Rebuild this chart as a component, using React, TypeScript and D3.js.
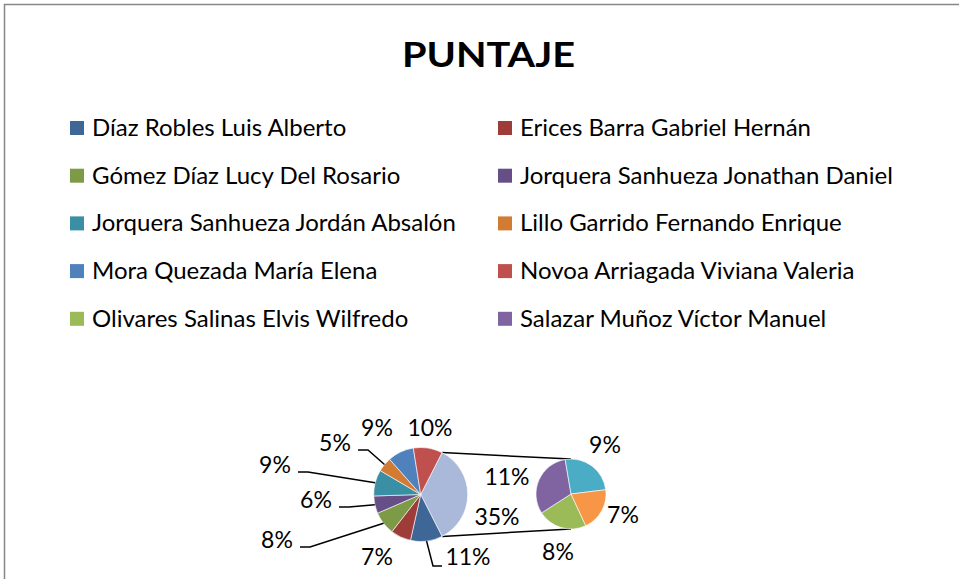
import React from "react";
import * as d3 from "d3";

const names = [
  "Díaz Robles Luis Alberto",
  "Erices Barra Gabriel Hernán",
  "Gómez Díaz Lucy Del Rosario",
  "Jorquera Sanhueza Jonathan Daniel",
  "Jorquera Sanhueza Jordán Absalón",
  "Lillo Garrido Fernando Enrique",
  "Mora Quezada María Elena",
  "Novoa Arriagada Viviana Valeria",
  "Olivares Salinas Elvis Wilfredo",
  "Salazar Muñoz Víctor Manuel",
  "Punto 11",
  "Punto 12",
];
const values = [11, 7, 8, 6, 9, 5, 9, 10, 8, 11, 9, 7];
const colors = [
  "#3E6797", "#9E3C3A", "#7D9A47", "#664F86", "#3B8FA4", "#D27B33",
  "#4F81BD", "#C0504D", "#9BBB59", "#8064A2", "#4BACC6", "#F79646",
];
const otherColor = "#AAB9D9";
const secondCount = 4;
const legendCount = 10;

// label layout (centers) for main pie slices 0..7: x, y, leader side (0 none, 1 line to the right, -1 line to the left)
const mainLabelPos: [number, number, number][] = [
  [468, 557, -1],
  [377, 557, 0],
  [277, 540, 1],
  [316, 500, 1],
  [275, 465, 1],
  [335, 443, 1],
  [377, 428, 0],
  [430, 428, 0],
];
const otherLabelPos: [number, number] = [497, 517];
const secondLabelPos: [number, number][] = [
  [558, 552],
  [507, 477],
  [605, 445],
  [623, 515],
];

export default function App() {
  const W = 959, H = 579;
  const c1: [number, number] = [420.7, 494.5];
  const r1 = 47;
  const c2: [number, number] = [571, 494];
  const r2 = 35;
  const total = d3.sum(values);
  const mainVals = values.slice(0, values.length - secondCount);
  const secVals = values.slice(values.length - secondCount);
  const otherVal = d3.sum(secVals);
  const otherAngle = (otherVal / total) * 2 * Math.PI;
  const start1 = Math.PI / 2 - otherAngle / 2;
  const mainData = [otherVal, ...mainVals];
  const pie1 = d3.pie<number>().sort(null).value((d) => d).startAngle(start1).endAngle(start1 + 2 * Math.PI);
  const arcs1 = pie1(mainData);
  const start2 = (155 / 180) * Math.PI;
  const pie2 = d3.pie<number>().sort(null).value((d) => d).startAngle(start2).endAngle(start2 + 2 * Math.PI);
  const arcs2 = pie2(secVals);
  const arc1 = d3.arc<d3.PieArcDatum<number>>().innerRadius(0).outerRadius(r1);
  const arc2 = d3.arc<d3.PieArcDatum<number>>().innerRadius(0).outerRadius(r2);
  const pct = d3.format(".0%");
  const font = "Lato, 'Open Sans', sans-serif";

  const pt = (c: [number, number], r: number, a: number): [number, number] => [
    c[0] + r * Math.sin(a),
    c[1] - r * Math.cos(a),
  ];
  const otherArc = arcs1[0];
  const topPt = pt(c1, r1, otherArc.startAngle);
  const botPt = pt(c1, r1, otherArc.endAngle);

  const legendRows = Math.ceil(legendCount / 2);
  const legendY = d3.scaleLinear().domain([0, legendRows - 1]).range([136, 326.8]);
  const legendX = [70, 498];

  return (
    <svg width={W} height={H} style={{ position: "absolute", left: 0, top: 0, background: "#fff" }}>
      <rect x={0} y={0} width={W} height={H} fill="#fff" />
      <rect x={4.5} y={4.5} width={W + 20} height={H + 20} fill="none" stroke="#878787" strokeWidth={1.5} />
      <text x={488.5} y={67} textAnchor="middle" fontFamily={font} fontWeight="bold" fontSize={34} textLength={173} lengthAdjust="spacingAndGlyphs">PUNTAJE</text>

      {names.slice(0, legendCount).map((n, i) => {
        const col = i % 2;
        const row = Math.floor(i / 2);
        const y = legendY(row);
        return (
          <g key={n}>
            <rect x={legendX[col]} y={y - 15} width={14} height={14} fill={colors[i]} />
            <text x={legendX[col] + 22} y={y} fontFamily={font} fontSize={24} fill="#000">{n}</text>
          </g>
        );
      })}

      {/* connector lines */}
      <line x1={topPt[0]} y1={topPt[1]} x2={c2[0]} y2={c2[1] - r2} stroke="#000" strokeWidth={1.5} />
      <line x1={botPt[0]} y1={botPt[1]} x2={c2[0]} y2={c2[1] + r2} stroke="#000" strokeWidth={1.5} />

      <g transform={`translate(${c1[0]},${c1[1]})`}>
        {arcs1.map((a, i) => (
          <path key={i} d={arc1(a) || ""} fill={i === 0 ? otherColor : colors[i - 1]} stroke="#fff" strokeWidth={0.6} />
        ))}
      </g>
      <g transform={`translate(${c2[0]},${c2[1]})`}>
        {arcs2.map((a, i) => (
          <path key={i} d={arc2(a) || ""} fill={colors[values.length - secondCount + i]} stroke="#fff" strokeWidth={0.6} />
        ))}
      </g>

      {/* leader lines */}
      {arcs1.slice(1).map((a, i) => {
        const [lx, ly, side] = mainLabelPos[i];
        if (side === 0) return null;
        const mid = (a.startAngle + a.endAngle) / 2;
        const e = pt(c1, r1, mid);
        let sx: number, sy: number, kx: number;
        if (side === 1) {
          sx = lx + 23;
          sy = ly + 7;
          kx = sx + 10;
        } else {
          sx = lx - 26;
          sy = ly + 9;
          kx = sx - 9;
        }
        return (
          <polyline key={i} points={`${sx},${sy} ${kx},${sy} ${e[0]},${e[1]}`} fill="none" stroke="#000" strokeWidth={1.5} />
        );
      })}

      {/* labels */}
      <g fontFamily={font} fontSize={23} textAnchor="middle" fill="#000">
        <text x={otherLabelPos[0]} y={otherLabelPos[1] + 8}>{pct(otherVal / total)}</text>
        {mainVals.map((v, i) => (
          <text key={i} x={mainLabelPos[i][0]} y={mainLabelPos[i][1] + 8}>{pct(v / total)}</text>
        ))}
        {secVals.map((v, i) => (
          <text key={"s" + i} x={secondLabelPos[i][0]} y={secondLabelPos[i][1] + 8}>{pct(v / total)}</text>
        ))}
      </g>
    </svg>
  );
}
